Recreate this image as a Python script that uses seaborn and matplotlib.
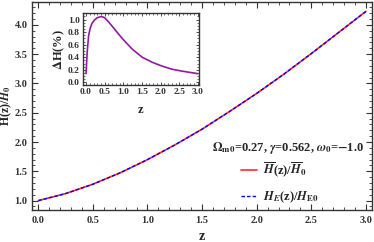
import numpy as np
import pandas as pd
import matplotlib
matplotlib.use("Agg")
import matplotlib.pyplot as plt
from matplotlib.ticker import MultipleLocator
import seaborn as sns

# Main curve values
z_main = [0.0, 0.25, 0.5, 0.75, 1.0, 1.25, 1.5, 1.75, 2.0, 2.25, 2.5, 2.75, 3.0]
h_bar = [1.00, 1.12, 1.28, 1.475, 1.70, 1.95, 2.22, 2.52, 2.83, 3.16, 3.51, 3.87, 4.23]
h_e = [1.00, 1.12, 1.28, 1.475, 1.70, 1.95, 2.22, 2.52, 2.83, 3.16, 3.51, 3.87, 4.23]

# Inset curve values (percent difference)
z_inset = [0.0, 0.03, 0.07, 0.11, 0.16, 0.22, 0.3, 0.41, 0.5, 0.61, 0.79, 0.97,
           1.24, 1.51, 1.78, 2.04, 2.31, 2.58, 3.0]
dH = [0.14, 0.48, 0.75, 0.86, 0.94, 0.99, 1.03, 1.05, 1.03, 0.96, 0.83, 0.70,
      0.53, 0.40, 0.32, 0.26, 0.21, 0.18, 0.14]

legend_title = r"$\mathbf{\Omega_{m0}}$=0.27, $\gamma$=0.562, $\omega_0$=$-$1.0"
label_bar = r"$\overline{H}$(z)/$\overline{H}_0$"
label_e = r"$H_E$(z)/$H_{\rm E0}$"

sns.set_style("ticks")
plt.rcParams["font.family"] = ["Liberation Serif", "DejaVu Serif"]
plt.rcParams["font.weight"] = "bold"
plt.rcParams["mathtext.fontset"] = "stix"
plt.rcParams["axes.edgecolor"] = "#333333"
plt.rcParams["axes.linewidth"] = 1.0
plt.rcParams["xtick.color"] = "#333333"
plt.rcParams["ytick.color"] = "#333333"

main_df = pd.DataFrame({"z": z_main, "bar": h_bar, "e": h_e})
inset_df = pd.DataFrame({"z": z_inset, "dH": dH})

fig = plt.figure(figsize=(3.74, 2.42), dpi=100)
ax = fig.add_axes([0.0848, 0.1322, 0.9091, 0.8595])

sns.lineplot(data=main_df, x="z", y="bar", ax=ax, color="#ff2a2a", lw=1.2, label=label_bar)
sns.lineplot(data=main_df, x="z", y="e", ax=ax, color="#0000ff", lw=1.0,
             linestyle=(0, (2.5, 1.5)), label=label_e)

ax.set_xlim(-0.06, 3.053)
ax.set_ylim(0.84, 4.39)
ax.xaxis.set_major_locator(MultipleLocator(0.5))
ax.xaxis.set_minor_locator(MultipleLocator(0.1))
ax.yaxis.set_major_locator(MultipleLocator(0.5))
ax.yaxis.set_minor_locator(MultipleLocator(0.1))
ax.tick_params(which="both", direction="in", top=True, right=True, labelsize=7.5)
ax.tick_params(axis="x", pad=4)
ax.tick_params(axis="y", pad=3)
ax.tick_params(which="major", length=4, width=0.8)
ax.tick_params(which="minor", length=2, width=0.6)
ax.xaxis.set_major_formatter(plt.FuncFormatter(lambda v, p: f"{v:.1f}"))
ax.yaxis.set_major_formatter(plt.FuncFormatter(lambda v, p: f"{v:.1f}"))
for lab in ax.get_xticklabels() + ax.get_yticklabels():
    lab.set_fontweight("bold")
ax.set_xlabel("z", fontsize=10, fontweight="bold", labelpad=4)
ax.set_ylabel(r"H(z)/$\mathit{H}_0$", fontsize=8.5, fontweight="bold")
ax.yaxis.set_label_coords(-0.052, 0.5)

ax.text(0.754, 0.298, legend_title, transform=ax.transAxes, ha="center", va="center",
        fontsize=9, fontweight="bold")
ax.legend(loc="upper left", bbox_to_anchor=(0.615, 0.238), frameon=False,
          fontsize=9, handlelength=1.3, handletextpad=0.5, labelspacing=0.85,
          borderpad=0, borderaxespad=0)

# Inset
ins = fig.add_axes([0.2211, 0.6488, 0.3110, 0.2961])
sns.lineplot(data=inset_df, x="z", y="dH", ax=ins, color="#921a9f", lw=1.2)
ins.set_xlim(-0.09, 3.03)
ins.set_ylim(-0.04, 1.10)
ins.xaxis.set_major_locator(MultipleLocator(0.5))
ins.xaxis.set_minor_locator(MultipleLocator(0.1))
ins.yaxis.set_major_locator(MultipleLocator(0.2))
ins.yaxis.set_minor_locator(MultipleLocator(0.05))
ins.tick_params(which="both", direction="in", top=True, right=True, labelsize=6.8, pad=2)
ins.tick_params(which="major", length=2.5, width=0.6)
ins.tick_params(which="minor", length=1.2, width=0.5)
ins.xaxis.set_major_formatter(plt.FuncFormatter(lambda v, p: f"{v:.1f}"))
ins.yaxis.set_major_formatter(plt.FuncFormatter(lambda v, p: f"{v:.1f}"))
for lab in ins.get_xticklabels() + ins.get_yticklabels():
    lab.set_fontweight("bold")
ins.set_xlabel("z", fontsize=9, fontweight="bold", labelpad=6)
ins.set_ylabel(r"$\mathbf{\Delta}$H(%)", fontsize=9, fontweight="bold", labelpad=1)

fig.savefig("out.png", dpi=100)
